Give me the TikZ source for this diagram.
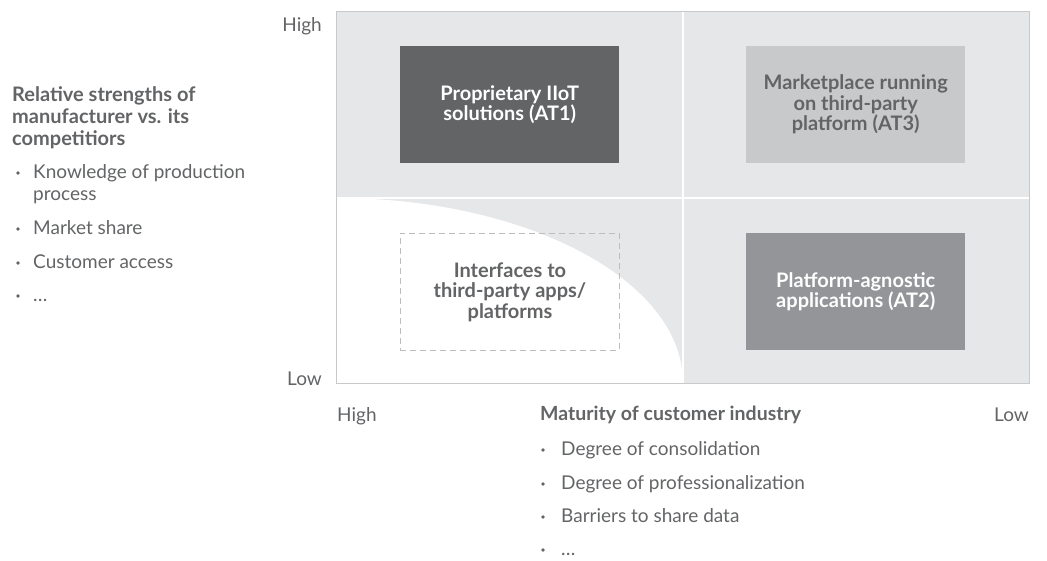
\documentclass[tikz,border=0pt]{standalone}
\usepackage{fontspec}
\setmainfont{Lato}
\definecolor{bgq}{HTML}{E6E7E8}
\definecolor{frame}{HTML}{C8C9CA}
\definecolor{dark}{HTML}{636466}
\definecolor{mid}{HTML}{939598}
\definecolor{light}{HTML}{C8C9CA}
\definecolor{txt}{HTML}{636466}
\definecolor{dashc}{HTML}{BCBDBF}
\tikzset{
  quad/.style={minimum width=219pt, minimum height=117pt, inner sep=0pt, align=center, anchor=north west,
    font=\fontsize{20}{20.5}\selectfont\bfseries},
  lbl/.style={inner sep=0pt, text=txt, font=\fontsize{19}{20}\selectfont},
  lblb/.style={lbl, font=\fontsize{19.5}{20}\selectfont\bfseries},
  lbll/.style={lbl, font=\fontsize{20}{20}\selectfont\bfseries},
  dot/.style={circle, fill=txt, inner sep=0pt, minimum size=3.6pt},
}
\begin{document}
\begin{tikzpicture}[x=1pt,y=-1pt]
\useasboundingbox (0,0) rectangle (1047,561);
% quadrant background
\fill[bgq] (336,12) rectangle (1029,383);
\fill[white] (336,198) arc[start angle=-90, end angle=0, x radius=347, y radius=185] -- (336,383) -- cycle;
\draw[white, line width=1.6pt] (683,12) -- (683,383);
\draw[white, line width=1.6pt] (336,198) -- (1029,198);
\draw[frame, line width=1pt] (336,12) rectangle (1029,383);
% boxes
\node[quad, fill=dark, text=white] (at1) at (400,46) {Proprietary IIoT\\solutions (AT1)};
\node[quad, fill=light, text=txt] (at3) at (746,46) {Marketplace running\\on third-party\\platform (AT3)};
\node[quad, fill=mid, text=white] (at2) at (746,233) {Platform-agnostic\\applications (AT2)};
\node[quad, draw=dashc, dash pattern=on 6pt off 4pt, line width=0.9pt, text=txt] (itf) at (400,233) {Interfaces to\\third-party apps/\\platforms};
% axis labels
\node[lbl, anchor=base east] (yhigh) at (322,32) {High};
\node[lbl, anchor=base east] (ylow) at (322,385) {Low};
\node[lbl, anchor=base west] (xhigh) at (337,421) {High};
\node[lbl, anchor=base east] (xlow) at (1029,421) {Low};
% left text
\node[lbll, anchor=base west] (l1) at (12,102) {Relative strengths of};
\node[lbll, anchor=base west] (l2) at (12,124) {manufacturer vs. its};
\node[lbll, anchor=base west] (l3) at (12,146) {competitiors};
\node[dot] (b1d) at (18,173) {};
\node[lbl, anchor=base west] (b1) at (33,179) {Knowledge of production};
\node[lbl, anchor=base west] (b1b) at (33,201) {process};
\node[dot] (b2d) at (18,229) {};
\node[lbl, anchor=base west] (b2) at (33,235) {Market share};
\node[dot] (b3d) at (18,263) {};
\node[lbl, anchor=base west] (b3) at (33,269) {Customer access};
\node[dot] (b4d) at (18,296) {};
\node[lbl, anchor=base west] (b4) at (33,302) {…};
% bottom text
\node[lblb, anchor=base west] (m0) at (540,420) {Maturity of customer industry};
\node[dot] (m1d) at (543,450) {};
\node[lbl, anchor=base west] (m1) at (561,455) {Degree of consolidation};
\node[dot] (m2d) at (543,484) {};
\node[lbl, anchor=base west] (m2) at (561,489) {Degree of professionalization};
\node[dot] (m3d) at (543,517) {};
\node[lbl, anchor=base west] (m3) at (561,522) {Barriers to share data};
\node[dot] (m4d) at (543,550) {};
\node[lbl, anchor=base west] (m4) at (561,555) {…};
\end{tikzpicture}
\end{document}
